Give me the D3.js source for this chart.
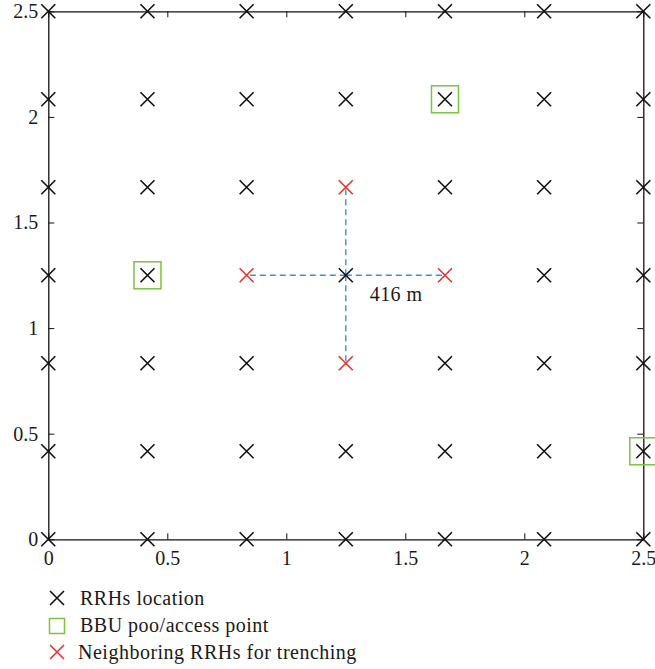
<!DOCTYPE html>
<html><head><meta charset="utf-8">
<script src="https://cdn.jsdelivr.net/npm/d3@7"></script>
<style>body{margin:0;background:#fff}svg{display:block}svg text{font-family:"Liberation Serif","Times New Roman",serif !important;fill:#1a1a1a}</style>
</head><body>
<script>
const gridX = [0, 0.4167, 0.8333, 1.25, 1.6667, 2.0833, 2.5];
const gridY = [0, 0.4167, 0.8333, 1.25, 1.6667, 2.0833, 2.5];
const bbuPoints = [[0.4167, 1.25], [1.6667, 2.0833], [2.5, 0.4167]];
const neighborPoints = [[0.8333, 1.25], [1.6667, 1.25], [1.25, 1.6667], [1.25, 0.8333]];
const centerPoint = [1.25, 1.25];
const xTicks = [0, 0.5, 1, 1.5, 2, 2.5];
const yTicks = [0, 0.5, 1, 1.5, 2, 2.5];
const distLabel = "416 m";
const legendItems = ["RRHs location", "BBU poo/access point", "Neighboring RRHs for trenching"];

const W = 655, H = 669;
const svg = d3.select("body").append("svg").attr("width", W).attr("height", H);
const x = d3.scaleLinear().domain([0, 2.5]).range([48.3, 643.3]);
const y = d3.scaleLinear().domain([0, 2.5]).range([539.3, 11.3]);

const black = "#111", green = "#7cc242", red = "#e8342a", blue = "#3d8fd4";
const font = "Liberation Serif";

const tickLen = 6;
svg.append("g").attr("transform", `translate(0,${y(0)})`)
  .call(d3.axisBottom(x).tickValues(xTicks).tickSizeInner(-tickLen).tickSizeOuter(0).tickPadding(11).tickFormat(d3.format("")))
  .call(g => { g.attr("font-family", font); g.select(".domain").attr("stroke", black).attr("stroke-width", 1.3); g.selectAll("text").style("font-size", "20px").attr("dy", "0.72em"); });
svg.append("g").attr("transform", `translate(0,${y(2.5)})`)
  .call(d3.axisTop(x).tickValues(xTicks).tickSizeInner(-tickLen).tickSizeOuter(0).tickFormat(""))
  .call(g => g.select(".domain").attr("stroke", black).attr("stroke-width", 1.3));
svg.append("g").attr("transform", `translate(${x(0)},0)`)
  .call(d3.axisLeft(y).tickValues(yTicks).tickSizeInner(-tickLen).tickSizeOuter(0).tickPadding(10).tickFormat(d3.format("")))
  .call(g => { g.attr("font-family", font); g.select(".domain").attr("stroke", black).attr("stroke-width", 1.3); g.selectAll("text").style("font-size", "20px"); });
svg.append("g").attr("transform", `translate(${x(2.5)},0)`)
  .call(d3.axisRight(y).tickValues(yTicks).tickSizeInner(-tickLen).tickSizeOuter(0).tickFormat(""))
  .call(g => g.select(".domain").attr("stroke", black).attr("stroke-width", 1.3));
svg.selectAll(".tick line").attr("stroke", black);

const dash = svg.append("g");
neighborPoints.forEach(p => {
  dash.append("line").attr("x1", x(centerPoint[0])).attr("y1", y(centerPoint[1]))
    .attr("x2", x(p[0])).attr("y2", y(p[1]))
    .attr("stroke", blue).attr("stroke-width", 1.4).attr("stroke-dasharray", "6,4");
});

const s = 7;
function cross(g, cx, cy, color) {
  g.append("path").attr("d", `M${cx - s},${cy - s}L${cx + s},${cy + s}M${cx - s},${cy + s}L${cx + s},${cy - s}`)
    .attr("stroke", color).attr("stroke-width", 1.6).attr("fill", "none");
}
const marks = svg.append("g");
const isNeighbor = (a, b) => neighborPoints.some(p => p[0] === a && p[1] === b);
gridX.forEach(a => gridY.forEach(b => { if (!isNeighbor(a, b)) cross(marks, x(a), y(b), black); }));
neighborPoints.forEach(p => cross(marks, x(p[0]), y(p[1]), red));
const sq = 27;
bbuPoints.forEach(p => marks.append("rect").attr("x", x(p[0]) - sq / 2).attr("y", y(p[1]) - sq / 2)
  .attr("width", sq).attr("height", sq).attr("fill", "none").attr("stroke", green).attr("stroke-width", 1.5));

svg.append("text").attr("x", x(1.25) + 24).attr("y", y(1.25) + 26).attr("font-family", font)
  .style("font-size", "20px").style("letter-spacing", "0.4px").text(distLabel);

const lg = svg.append("g").attr("font-family", font);
const ly = [598, 625, 652];
cross(lg, 57, ly[0], black);
lg.append("rect").attr("x", 57 - 7.5).attr("y", ly[1] - 6.5).attr("width", 15).attr("height", 15)
  .attr("fill", "none").attr("stroke", green).attr("stroke-width", 1.5);
cross(lg, 57, ly[2], red);
legendItems.forEach((t, i) => lg.append("text").attr("x", i === 2 ? 78 : 80).attr("y", ly[i] + 7)
  .style("font-size", "20px").style("letter-spacing", "0.5px").text(t));
</script>
</body></html>
